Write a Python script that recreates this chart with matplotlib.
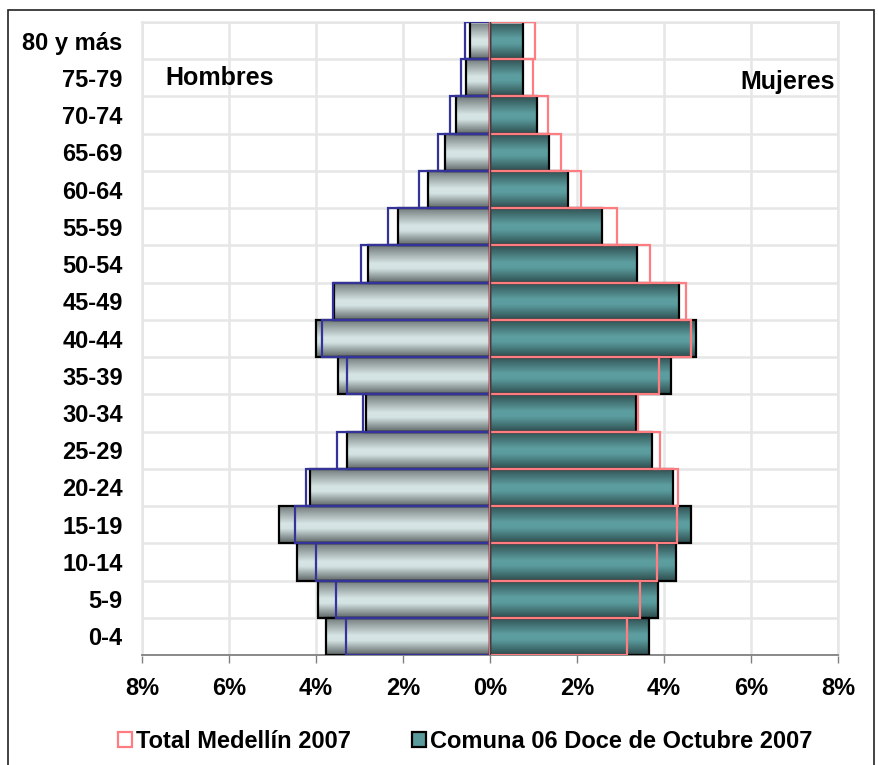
import numpy as np
import matplotlib as mpl
import matplotlib.pyplot as plt
from matplotlib.colors import LinearSegmentedColormap
from matplotlib.patches import Patch, Rectangle

# ======================================================
# Plot settings
# ======================================================
mpl.rcParams['font.family'] = ['Liberation Sans', 'DejaVu Sans']
mpl.rcParams['font.weight'] = 'bold'
mpl.rcParams['font.size'] = 17

# ======================================================
# Data (% of population)
# ======================================================
age_groups = ["0-4", "5-9", "10-14", "15-19", "20-24", "25-29", "30-34",
              "35-39", "40-44", "45-49", "50-54", "55-59", "60-64",
              "65-69", "70-74", "75-79", "80 y más"]

comuna_hombres = [3.77, 3.96, 4.44, 4.84, 4.14, 3.28, 2.84, 3.49, 4.01,
                  3.58, 2.80, 2.12, 1.42, 1.04, 0.79, 0.55, 0.46]
medellin_hombres = [3.31, 3.54, 4.00, 4.48, 4.22, 3.52, 2.91, 3.28, 3.87,
                    3.62, 2.97, 2.34, 1.63, 1.20, 0.92, 0.67, 0.57]
comuna_mujeres = [3.65, 3.87, 4.28, 4.63, 4.21, 3.73, 3.36, 4.15, 4.74,
                  4.34, 3.38, 2.57, 1.79, 1.36, 1.08, 0.77, 0.75]
medellin_mujeres = [3.16, 3.44, 3.85, 4.29, 4.32, 3.91, 3.41, 3.88, 4.62,
                    4.51, 3.68, 2.92, 2.10, 1.63, 1.34, 1.00, 1.03]

x_ticks = [-8, -6, -4, -2, 0, 2, 4, 6, 8]

# ======================================================
# Colours
# ======================================================
GRID = "#e6e6e6"
BLUE = "#333399"
PINK = "#FF7C80"
TEAL = "#5a9a9c"

cmap_h = LinearSegmentedColormap.from_list(
    "hombres", [(0.0, "#5f6666"), (0.38, "#d3e2e2"), (0.52, "#d6e4e4"), (1.0, "#6f7777")])
cmap_m = LinearSegmentedColormap.from_list(
    "mujeres", [(0.0, "#2e4d4e"), (0.40, "#5b9c9e"), (0.55, "#5d9ea0"), (1.0, "#2f4e50")])


def fill_gradient(ax, bars, cmap):
    # vertical gradient inside each bar, clipped to the bar shape
    grad = np.linspace(0, 1, 64).reshape(-1, 1)
    for b in bars:
        x0, y0 = b.get_x(), b.get_y()
        w, h = b.get_width(), b.get_height()
        im = ax.imshow(grad, extent=[min(x0, x0 + w), max(x0, x0 + w), y0, y0 + h],
                       aspect="auto", cmap=cmap, origin="lower", zorder=2,
                       interpolation="bilinear")
        im.set_clip_path(b)


# ======================================================
# Chart
# ======================================================
fig = plt.figure(figsize=(8.79, 7.65), dpi=100)
ax = fig.add_axes([142 / 879, 1 - 655 / 765, (838 - 142) / 879, (655 - 22) / 765])

y = np.arange(len(age_groups))
neg_comuna_h = [-v for v in comuna_hombres]
neg_medellin_h = [-v for v in medellin_hombres]

bars_h = ax.barh(y, neg_comuna_h, height=1.0, facecolor="none",
                 edgecolor="black", linewidth=1.6, zorder=3)
bars_m = ax.barh(y, comuna_mujeres, height=1.0, facecolor="none",
                 edgecolor="black", linewidth=1.6, zorder=3)
fill_gradient(ax, bars_h, cmap_h)
fill_gradient(ax, bars_m, cmap_m)

ax.barh(y, neg_medellin_h, height=1.0, facecolor="none",
        edgecolor=BLUE, linewidth=1.6, zorder=4)
ax.barh(y, medellin_mujeres, height=1.0, facecolor="none",
        edgecolor=PINK, linewidth=1.6, zorder=4)

ax.axvline(0, color="#404040", linewidth=1.0, zorder=5)

ax.set_xlim(-8, 8)
ax.set_ylim(-0.5, len(age_groups) - 0.5)

ax.set_xticks(x_ticks)
ax.set_xticklabels([f"{abs(t)}%" for t in x_ticks], fontweight="bold")
ax.set_yticks(y)
ax.set_yticklabels(age_groups, fontweight="bold")
ax.set_yticks(np.arange(-0.5, len(age_groups), 1), minor=True)

ax.tick_params(axis="x", direction="out", length=6, width=1.0, color="#808080", pad=10)
ax.tick_params(axis="y", which="both", length=0, pad=14)

ax.grid(axis="x", color=GRID, linewidth=1.8, zorder=0)
ax.grid(axis="y", which="minor", color=GRID, linewidth=1.8, zorder=0)
ax.set_axisbelow(True)

for side in ["top", "left", "right"]:
    ax.spines[side].set_color(GRID)
    ax.spines[side].set_linewidth(1.8)
ax.spines["bottom"].set_color("#808080")
ax.spines["bottom"].set_linewidth(1.3)

ax.text(-7.47, 15, "Hombres", ha="left", va="center", fontsize=18, fontweight="bold")
ax.text(7.93, 14.9, "Mujeres", ha="right", va="center", fontsize=18, fontweight="bold")

handles = [
    Patch(facecolor="white", edgecolor=PINK, linewidth=1.6, label="Total Medellín 2007"),
    Patch(facecolor=TEAL, edgecolor="black", linewidth=1.6, label="Comuna 06 Doce de Octubre 2007"),
]
fig.legend(handles=handles, loc="center", bbox_to_anchor=(0.529, 0.031), ncol=2,
           frameon=False, handlelength=0.6, handleheight=0.6, handletextpad=0.15,
           columnspacing=2.6, prop={"weight": "bold", "size": 17})

fig.patches.append(Rectangle((8 / 879, -0.02), (874 - 8) / 879, 1 - 10 / 765 + 0.02,
                             transform=fig.transFigure, fill=False,
                             edgecolor="#222222", linewidth=1.2))

plt.savefig("out.png", dpi=100)
plt.close()
